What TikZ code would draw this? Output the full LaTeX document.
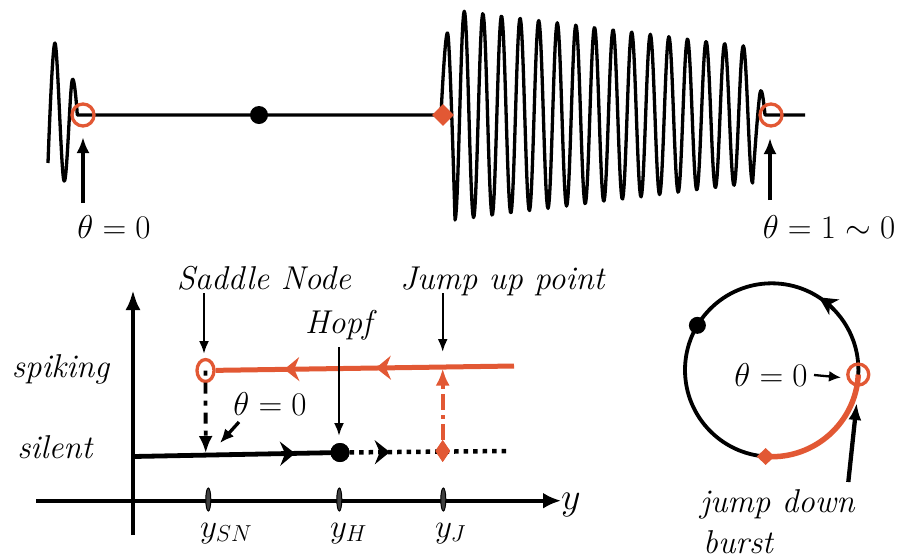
\RequirePackage{fix-cm}
\documentclass[tikz,border=0pt]{standalone}
\usetikzlibrary{arrows.meta,shapes.geometric,decorations.markings}
\definecolor{burst}{RGB}{226,88,52}
\tikzset{stl/.tip={Stealth[length=15pt,width=24pt,inset=5pt]}}
\begin{document}
\begin{tikzpicture}[x=1pt,y=-1pt,
  lbl/.style={font=\fontsize{33}{40}\selectfont, inner sep=0pt},
  wave/.style={line width=3.3pt, line join=round},
  ocirc/.style={circle, draw=burst, line width=3.3pt, minimum size=22pt, inner sep=0pt},
  bdot/.style={circle, fill=black, minimum size=18pt, inner sep=0pt},
  odiam/.style={diamond, fill=burst, minimum width=22pt, minimum height=22pt, inner sep=0pt},
  ptrbig/.style={line width=3.2pt, -{Latex[length=16pt,width=13pt]}},
  ptr/.style={line width=2.3pt, -{Latex[length=13pt,width=10pt]}},
  axisline/.style={line width=4.3pt},
  tick/.style={ellipse, draw=black, fill=black!75, line width=1pt, minimum width=5pt, minimum height=23pt, inner sep=0pt},
  midarrows/.style={postaction={decorate}, decoration={markings, #1}}
]
\useasboundingbox (0,0) rectangle (901,558);

% ---------------- top waveform ----------------
\draw[wave] plot[smooth, tension=0.6] coordinates {(48,163) (55,43) (64,181) (72,81) (77.3,115)} -- (441,115);
\draw[wave] plot[smooth, tension=0.6] coordinates {(441,115) (448,35) (455,220)}
  -- plot[domain=455:752.6, samples=420] (\x, {115 + (105-0.12416*(\x-455))*cos(19.3548*(\x-455))})
  -- plot[smooth, tension=0.6] coordinates {(752.6,183) (760,93) (765,115)} -- (805,115);

\node[ocirc] (t0) at (83,115) {};
\node[bdot] (tdot) at (259,115) {};
\node[odiam] (tdiam) at (443,115) {};
\node[ocirc] (t1) at (771,115) {};

\node[lbl, anchor=base] (tl0) at (114,238) {$\theta=0$};
\node[lbl, anchor=base] (tl1) at (829,238) {$\theta=1\sim0$};
\coordinate (t0a) at (83,203); \coordinate (t0b) at (83,137);
\coordinate (t1a) at (770,200); \coordinate (t1b) at (770,138);
\draw[ptrbig] (t0a) -- (t0b);
\draw[ptrbig] (t1a) -- (t1b);

% ---------------- bifurcation diagram ----------------
\coordinate (xL) at (36,500.7); \coordinate (xR) at (561,500.7);
\coordinate (vB) at (133,535); \coordinate (vT) at (133,290);
\draw[axisline, -{Latex[length=18pt,width=16pt]}] (xL) -- (xR);
\draw[axisline, -{Latex[length=20pt,width=15pt]}] (vB) -- (vT);
\node[lbl, font=\fontsize{38}{44}\selectfont, anchor=base west] (ylab) at (561,509) {$y$};

\node[tick] (tkSN) at (208.3,499.5) {};
\node[tick] (tkH) at (339.3,499.5) {};
\node[tick] (tkJ) at (443.3,499.5) {};
\node[lbl, anchor=base west] (lSN) at (200,537) {$y_{SN}$};
\node[lbl, anchor=base west] (lH) at (330,537) {$y_{H}$};
\node[lbl, anchor=base west] (lJ) at (435,537) {$y_{J}$};

\node[lbl, anchor=base] (spk) at (61,377) {\textit{spiking}};
\node[lbl, anchor=base] (sil) at (55.5,458) {\textit{silent}};

% silent branch
\coordinate (s0) at (133,456.5);
\node[bdot, minimum size=19pt] (hopf) at (340,452.5) {};
\draw[line width=4.8pt, midarrows={mark=at position 0.783 with {\arrow{stl}}}] (s0) -- (hopf.center);
\node[bdot, minimum size=19pt] at (hopf) {};
\coordinate (dEnd) at (510,451);
\node[diamond, fill=burst, minimum width=15pt, minimum height=22pt, inner sep=0pt] (jd) at (442.7,451) {};
\draw[line width=4.5pt, dash pattern=on 4.5pt off 5pt, midarrows={mark=at position 0.25 with {\arrow{stl}}}] (hopf) -- (dEnd);
\node[diamond, fill=burst, minimum width=15pt, minimum height=22pt, inner sep=0pt] at (jd) {};

% spiking branch
\node[ellipse, draw=burst, line width=3.3pt, minimum width=17pt, minimum height=22pt, inner sep=0pt] (sn) at (205.5,370.5) {};
\coordinate (spEnd) at (514,366);
\draw[burst, line width=5pt, midarrows={mark=at position 0.463 with {\arrow{stl}}, mark=at position 0.77 with {\arrow{stl}}}] (spEnd) -- (sn);

% jump down (saddle node) and jump up
\coordinate (snDown) at (205.7,453);
\draw[line width=3.8pt, dash pattern=on 5pt off 7pt on 11pt off 7pt, -{Latex[length=17pt,width=14pt]}] (sn.center) -- (snDown);
\coordinate (jUp) at (442.7,368.5);
\draw[burst, line width=3.8pt, dash pattern=on 16pt off 5pt on 4pt off 5pt, -{Latex[length=17pt,width=14pt]}] (jd) -- (jUp);

% labels with pointers
\node[lbl, anchor=base] (lSad) at (264,289) {\textit{Saddle Node}};
\node[lbl, anchor=base] (lJump) at (503,289) {\textit{Jump up point}};
\node[lbl, anchor=base] (lHopf) at (341,333) {\textit{Hopf}};
\node[lbl, anchor=base] (lTh) at (270,415) {$\theta=0$};
\coordinate (pSa) at (204,293); \coordinate (pSb) at (204,354);
\coordinate (pJa) at (442.7,293); \coordinate (pJb) at (442.7,352);
\coordinate (pHa) at (339,347); \coordinate (pHb) at (339,436);
\coordinate (pTa) at (239,422); \coordinate (pTb) at (220,443);
\draw[ptr] (pSa) -- (pSb);
\draw[ptr] (pJa) -- (pJb);
\draw[ptr] (pHa) -- (pHb);
\draw[line width=3.3pt, -{Latex[length=14pt,width=12pt]}] (pTa) -- (pTb);

% ---------------- circle diagram ----------------
\coordinate (cc) at (771.7,370);
\draw[line width=3.8pt] (cc) circle[radius=86.7];
\draw[line width=3.8pt, -{Stealth[length=18pt,width=18pt,inset=5pt]}] (cc) ++(-44:86.7) arc[start angle=-44, end angle=-57, radius=86.7];
\draw[burst, line width=5.5pt] (cc) ++(3:86.7) arc[start angle=3, end angle=93, radius=86.7];
\path (cc) ++(3:86.7) node[ocirc, minimum size=21pt] (cm) {};
\path (cc) ++(94:86.7) node[diamond, fill=burst, minimum width=18pt, minimum height=17pt, inner sep=0pt] (cd) {};
\path (cc) ++(-149:86.7) node[bdot, minimum size=17pt] (cdot) {};

\node[lbl, anchor=base] (cTh) at (771,386.7) {$\theta=0$};
\coordinate (cTa) at (814,375); \coordinate (cTb) at (841,377.5);
\draw[line width=2.3pt, -{Latex[length=12pt,width=11pt]}] (cTa) -- (cTb);
\coordinate (cJa) at (848.3,482); \coordinate (cJb) at (856.7,403);
\draw[line width=4.3pt, -{Latex[length=17pt,width=13pt]}] (cJa) -- (cJb);
\node[lbl, anchor=base west] (jdn) at (700,512) {\textit{jump down}};
\node[lbl, anchor=base west] (bst) at (703,553) {\textit{burst}};
\end{tikzpicture}
\end{document}
